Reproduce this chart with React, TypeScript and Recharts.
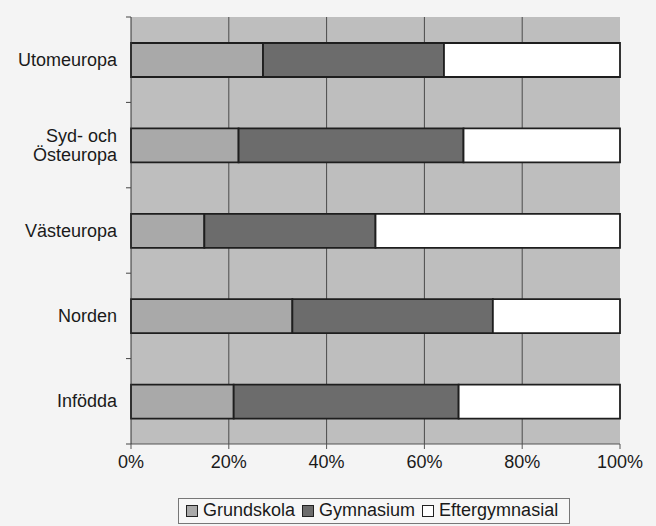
import { Bar, BarChart, CartesianGrid, Legend, XAxis, YAxis } from "recharts";

const regions = ["Utomeuropa", "Syd- och Östeuropa", "Västeuropa", "Norden", "Infödda"];
const grundskola = [27, 22, 15, 33, 21];
const gymnasium = [37, 46, 35, 41, 46];
const eftergymnasial = [36, 32, 50, 26, 33];
const xTicks = [0, 20, 40, 60, 80, 100];

const seriesInfo = [
  { key: "grundskola", name: "Grundskola", color: "#a9a9a9" },
  { key: "gymnasium", name: "Gymnasium", color: "#6c6c6c" },
  { key: "eftergymnasial", name: "Eftergymnasial", color: "#ffffff" },
];

const data = regions.map((region, i) => ({
  region,
  grundskola: grundskola[i],
  gymnasium: gymnasium[i],
  eftergymnasial: eftergymnasial[i],
}));

const FONT = "'Liberation Sans', Arial, sans-serif";

function RegionTick(props: any) {
  const { x, y, payload, index } = props;
  const off = payload.offset ?? 0;
  const lines =
    payload.value === "Syd- och Östeuropa" ? ["Syd- och", "Östeuropa"] : [payload.value];
  const lh = 19;
  const start = -((lines.length - 1) * lh) / 2;
  return (
    <g>
      {index === 0 && (
        <line x1={x + 3} x2={x + 8} y1={y - off} y2={y - off} stroke="#444" />
      )}
      <line x1={x + 3} x2={x + 8} y1={y + off} y2={y + off} stroke="#444" />
      <text x={x - 6} y={y} textAnchor="end" fontSize={18} fill="#1a1a1a" fontFamily={FONT}>
        {lines.map((l, i) => (
          <tspan key={l} x={x - 6} dy={i === 0 ? start + 6 : lh}>
            {l}
          </tspan>
        ))}
      </text>
    </g>
  );
}

function LegendBox() {
  return (
    <div
      style={{
        display: "inline-flex",
        alignItems: "center",
        border: "1px solid #777",
        padding: "1px 4px 2px 7px",
        fontFamily: FONT,
        fontSize: 18,
        color: "#1a1a1a",
        background: "#f7f7f7",
        whiteSpace: "nowrap",
      }}
    >
      {seriesInfo.map((s) => (
        <span key={s.key} style={{ display: "inline-flex", alignItems: "center", marginRight: 7 }}>
          <span
            style={{
              display: "inline-block",
              width: 10,
              height: 10,
              background: s.color,
              border: "1.5px solid #222",
              marginRight: 5,
            }}
          />
          {s.name}
        </span>
      ))}
    </div>
  );
}

export default function App() {
  return (
    <div
      style={{
        position: "absolute",
        left: 0,
        top: 0,
        width: 656,
        height: 526,
        background: "#f4f4f4",
      }}
    >
      <BarChart
        width={656}
        height={526}
        data={data}
        layout="vertical"
        margin={{ top: 17, right: 36, left: 0, bottom: 0 }}
        barSize={34}
      >
        <CartesianGrid
          horizontal={false}
          stroke="#4a4a4a"
          fill="#bebebe"
          verticalValues={[20, 40, 60, 80]}
        />
        <XAxis
          type="number"
          domain={[0, 100]}
          ticks={xTicks}
          tickFormatter={(v) => `${v}%`}
          height={56}
          tickMargin={6}
          tickSize={5}
          stroke="#555"
          tick={{ fontSize: 18, fill: "#1a1a1a", fontFamily: FONT }}
        />
        <YAxis
          type="category"
          dataKey="region"
          width={131}
          tickLine={false}
          stroke="#333"
          tick={<RegionTick />}
          interval={0}
        />
        <Legend
          verticalAlign="bottom"
          content={<LegendBox />}
          wrapperStyle={{ left: 178, width: "auto", bottom: 2 }}
        />
        {seriesInfo.map((s) => (
          <Bar
            key={s.key}
            dataKey={s.key}
            name={s.name}
            stackId="a"
            fill={s.color}
            stroke="#1e1e1e"
            strokeWidth={1.8}
            isAnimationActive={false}
          />
        ))}
      </BarChart>
    </div>
  );
}
